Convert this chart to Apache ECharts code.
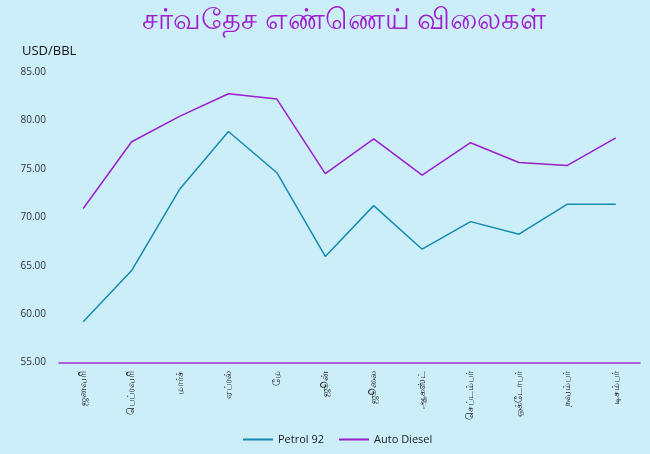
<!DOCTYPE html>
<html>
<head>
<meta charset="utf-8">
<script src="https://cdn.jsdelivr.net/npm/echarts@6/dist/echarts.min.js"></script>
<style>
html,body{margin:0;padding:0;background:#CCEEF9;}
#c{width:650px;height:454px;}
</style>
</head>
<body>
<div id="c"></div>
<script>
const categories = ['ஜனவரி','பெப்ரவரி','மார்ச்','ஏப்ரல்','மே','ஜூன்','ஜூலை','ஆகஸ்ட்','செப்டம்பர்','ஒக்டோபர்','நவம்பர்','டிசம்பர்'];
const petrol92 = [59.2, 64.5, 72.95, 78.85, 74.6, 65.95, 71.2, 66.7, 69.55, 68.25, 71.35, 71.35];
const autoDiesel = [70.9, 77.8, 80.45, 82.75, 82.2, 74.5, 78.1, 74.35, 77.7, 75.65, 75.35, 78.2];
const seriesNames = ['Petrol 92', 'Auto Diesel'];
const yMin = 55, yMax = 85, yStep = 5;

const chart = echarts.init(document.getElementById('c'));
chart.setOption({
  backgroundColor: '#CCEEF9',
  animation: false,
  title: {
    text: 'சர்வதேச எண்ணெய் விலைகள்',
    left: 137,
    top: 1,
    textStyle: { color: '#A020D0', fontSize: 29, fontWeight: 'normal', fontFamily: 'Noto Sans, sans-serif' }
  },
  legend: {
    bottom: 4,
    left: 238,
    itemWidth: 30,
    itemHeight: 2,
    itemGap: 15,
    icon: 'rect',
    textStyle: { color: '#222', fontSize: 11, fontFamily: 'Open Sans, sans-serif' },
    data: seriesNames
  },
  grid: { left: 59, right: 10, top: 72, bottom: 91.5, containLabel: false },
  xAxis: {
    type: 'category',
    data: categories,
    boundaryGap: true,
    axisLine: { show: true, lineStyle: { color: '#A030D0', width: 1.5 } },
    axisTick: { show: false },
    axisLabel: { rotate: 90, fontSize: 10, color: '#222', margin: 8, interval: 0 }
  },
  yAxis: {
    type: 'value',
    min: yMin, max: yMax, interval: yStep,
    name: 'USD/BBL',
    nameLocation: 'end',
    nameGap: 14,
    nameTextStyle: { color: '#111', fontSize: 13, align: 'left', padding: [0, 0, 0, -37], fontFamily: 'Open Sans, sans-serif' },
    axisLine: { show: false },
    axisTick: { show: false },
    splitLine: { show: false },
    axisLabel: { color: '#333', fontSize: 10, margin: 13, formatter: v => v.toFixed(2), fontFamily: 'Open Sans, sans-serif' }
  },
  series: [
    { name: seriesNames[0], type: 'line', data: petrol92, symbol: 'none', lineStyle: { color: '#168BB0', width: 1.5 }, itemStyle: { color: '#168BB0' } },
    { name: seriesNames[1], type: 'line', data: autoDiesel, symbol: 'none', lineStyle: { color: '#9B1FCF', width: 1.5 }, itemStyle: { color: '#9B1FCF' } }
  ]
});
</script>
</body>
</html>
